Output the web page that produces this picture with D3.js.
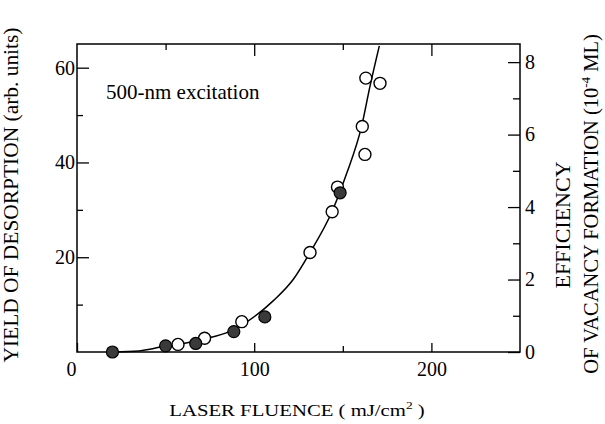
<!DOCTYPE html>
<html lang="en">
<head>
<meta charset="utf-8">
<title>Yield of desorption vs laser fluence</title>
<script src="https://d3js.org/d3.v7.min.js"></script>
<style>
  body { margin: 0; background: #fff; }
  svg text { font-family: "Liberation Serif", "Times New Roman", serif !important; fill: #000; }
  .tick line { stroke: #000; stroke-width: 1.3px; }
  .tick text { font-size: 20px; }
</style>
</head>
<body>
<div id="chart"></div>
<script>
// fluence (mJ/cm^2) and desorption yield (arb. units)
const openFluence   = [57, 72, 93, 131.5, 144, 147, 161, 162.5, 163, 171];
const openYield     = [1.6, 2.9, 6.4, 21, 29.6, 34.8, 47.6, 41.7, 57.8, 56.7];
const filledFluence = [20, 50, 67, 88.5, 106, 148.5];
const filledYield   = [0, 1.3, 1.8, 4.3, 7.4, 33.6];
// fitted curve
const fitFluence = [20, 35, 41, 50, 60, 71, 86, 96, 111, 122, 131.5, 144, 152, 160.6, 165.3, 170.6];
const fitYield   = [0, 0.2, 0.6, 1.3, 1.8, 2.7, 4.3, 6.4, 10.9, 15.3, 21, 29.7, 37.5, 47.6, 56, 64.6];

const xMajor = [0, 100, 200], xMinor = [50, 150];
const yMajor = [20, 40, 60], yMinor = [10, 30, 50];
const rMajor = [0, 2, 4, 6, 8], rMinor = [1, 3, 5, 7];

const W = 605, H = 424;
const margin = {left: 77, right: 520, top: 44, bottom: 352};

const svg = d3.select("#chart").append("svg")
  .attr("width", W).attr("height", H);

const x = d3.scaleLinear().domain([0, 250]).range([margin.left, margin.right]);
const y = d3.scaleLinear().domain([0, 65]).range([margin.bottom, margin.top]);
const yR = d3.scaleLinear().domain([0, 8.5]).range([margin.bottom, margin.top]);

// axes, ticks pointing inward
function addAxis(axis, tx, ty) {
  const g = svg.append("g").attr("transform", `translate(${tx},${ty})`).call(axis);
  g.select(".domain").remove();
  g.attr("font-family", null).attr("font-size", null);
  return g;
}
addAxis(d3.axisBottom(x).tickValues(xMajor).tickSize(-9).tickPadding(10), 0, margin.bottom)
  .selectAll("text").attr("dx", d => d === 0 ? -6 : 0);
addAxis(d3.axisBottom(x).tickValues(xMinor).tickSize(-6).tickFormat(""), 0, margin.bottom);
addAxis(d3.axisTop(x).tickValues([100, 200]).tickSize(-12).tickFormat(""), 0, margin.top);
addAxis(d3.axisTop(x).tickValues(xMinor).tickSize(-6).tickFormat(""), 0, margin.top);
addAxis(d3.axisLeft(y).tickValues(yMajor).tickSize(-12).tickPadding(2), margin.left, 0);
addAxis(d3.axisLeft(y).tickValues(yMinor).tickSize(-6).tickFormat(""), margin.left, 0);
addAxis(d3.axisRight(yR).tickValues(rMajor).tickSize(-12).tickPadding(5), margin.right, 0);
addAxis(d3.axisRight(yR).tickValues(rMinor).tickSize(-7).tickFormat(""), margin.right, 0);

svg.append("rect")
  .attr("x", margin.left).attr("y", margin.top)
  .attr("width", margin.right - margin.left).attr("height", margin.bottom - margin.top)
  .attr("fill", "none").attr("stroke", "#000").attr("stroke-width", 1.5);

// fitted curve
const fit = fitFluence.map((f, i) => [f, fitYield[i]]);
svg.append("path")
  .datum(fit)
  .attr("fill", "none")
  .attr("stroke", "#000")
  .attr("stroke-width", 1.5)
  .attr("d", d3.line().curve(d3.curveMonotoneX)
    .x(d => x(d[0])).y(d => y(d[1])));

// data points
svg.append("g").selectAll("circle")
  .data(openFluence.map((f, i) => [f, openYield[i]]))
  .join("circle")
  .attr("cx", d => x(d[0])).attr("cy", d => y(d[1])).attr("r", 6)
  .attr("fill", "#fff").attr("stroke", "#000").attr("stroke-width", 1.4);

svg.append("g").selectAll("circle")
  .data(filledFluence.map((f, i) => [f, filledYield[i]]))
  .join("circle")
  .attr("cx", d => x(d[0])).attr("cy", d => y(d[1])).attr("r", 6)
  .attr("fill", "#3a3a3a").attr("stroke", "#000").attr("stroke-width", 1.2);

// annotation
svg.append("text")
  .attr("x", x(16.4)).attr("y", y(53.4))
  .attr("font-size", 21)
  .text("500-nm excitation");

// x title
const xt = svg.append("text")
  .attr("transform", "translate(297,416) scale(1.22,1)")
  .attr("text-anchor", "middle")
  .attr("font-size", 17);
xt.append("tspan").text("LASER FLUENCE  ( mJ/cm");
xt.append("tspan").attr("font-size", 11).attr("dy", -7).text("2");
xt.append("tspan").attr("dy", 7).text(" )");

// left title
svg.append("text")
  .attr("transform", "translate(18,195) rotate(-90)")
  .attr("text-anchor", "middle")
  .attr("font-size", 20)
  .attr("textLength", 335).attr("lengthAdjust", "spacingAndGlyphs")
  .text("YIELD OF DESORPTION (arb. units)");

// right titles
svg.append("text")
  .attr("transform", "translate(570,225) rotate(-90)")
  .attr("text-anchor", "middle")
  .attr("font-size", 22)
  .text("EFFICIENCY");

const rt = svg.append("text")
  .attr("transform", "translate(598,204) rotate(-90)")
  .attr("text-anchor", "middle")
  .attr("font-size", 20.5);
rt.append("tspan").text("OF VACANCY FORMATION (10");
rt.append("tspan").attr("font-size", 13).attr("dy", -8).text("-4");
rt.append("tspan").attr("dy", 8).text(" ML)");
</script>
</body>
</html>
